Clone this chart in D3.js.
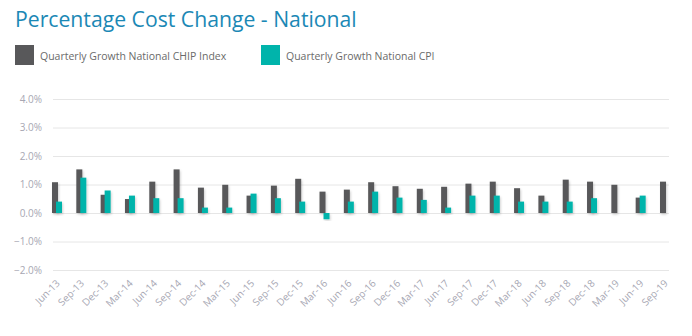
<!DOCTYPE html>
<html>
<head>
<meta charset="utf-8">
<script src="https://cdn.jsdelivr.net/npm/d3@7"></script>
<style>
  html, body { margin: 0; padding: 0; background: #fff; }
  svg { display: block; font-family: "Open Sans", "Noto Sans", sans-serif; }
</style>
</head>
<body>
<svg id="chart" width="692" height="336"></svg>
<script>
// Quarterly growth, national CHIP index vs CPI (%)
const quarters = ["Jun-13","Sep-13","Dec-13","Mar-14","Jun-14","Sep-14","Dec-14","Mar-15","Jun-15","Sep-15","Dec-15","Mar-16","Jun-16","Sep-16","Dec-16","Mar-17","Jun-17","Sep-17","Dec-17","Mar-18","Jun-18","Sep-18","Dec-18","Mar-19","Jun-19","Sep-19"];
const chipGrowth = [1.08,1.53,0.64,0.49,1.10,1.53,0.89,0.99,0.61,0.96,1.20,0.75,0.82,1.08,0.94,0.85,0.92,1.03,1.10,0.87,0.61,1.17,1.10,0.99,0.54,1.10];
const cpiGrowth  = [0.40,1.24,0.79,0.61,0.52,0.52,0.19,0.19,0.68,0.52,0.40,-0.22,0.40,0.75,0.54,0.46,0.19,0.61,0.61,0.40,0.40,0.40,0.52,null,0.61,null];
const yTicks = [-2,-1,0,1,2,3,4];
const seriesNames = ["Quarterly Growth National CHIP Index", "Quarterly Growth National CPI"];
const seriesColors = ["#58585a", "#00b4ab"];

const svg = d3.select("#chart");

// Title
svg.append("text")
  .attr("x", 15).attr("y", 26.5)
  .attr("fill", "#1b88b5")
  .attr("font-size", 21.2)
  .text("Percentage Cost Change - National");

// Legend
const legendX = [15, 261];
seriesNames.forEach((name, i) => {
  const g = svg.append("g").attr("transform", `translate(${legendX[i]},45)`);
  g.append("rect").attr("width", 19).attr("height", 20).attr("fill", seriesColors[i]);
  g.append("text").attr("x", 25).attr("y", 14.5)
    .attr("font-size", 10.5).attr("fill", "#6a6a6a").text(name);
});

// Scales
const left = 53, right = 669;
const x = d3.scalePoint().domain(quarters).range([57, 665]);
const y = d3.scaleLinear().domain([-2, 4]).range([270, 99]);

// Drop shadow for bars
const defs = svg.append("defs");
const f = defs.append("filter").attr("id", "shadow")
  .attr("x", "-50%").attr("y", "-20%").attr("width", "200%").attr("height", "140%");
f.append("feDropShadow").attr("dx", 1).attr("dy", 1.5)
  .attr("stdDeviation", 0.8).attr("flood-color", "#000").attr("flood-opacity", 0.18);

// Gridlines + y labels
const yAxis = d3.axisLeft(y).tickValues(yTicks)
  .tickFormat(d => d3.format(".1f")(d) + "%")
  .tickSize(-(right - left)).tickPadding(11);
const gy = svg.append("g").attr("transform", `translate(${left},0)`).call(yAxis);
gy.select(".domain").remove();
gy.selectAll(".tick line").attr("stroke", "#e6e6e6");
gy.selectAll(".tick text").attr("fill", "#a7a7b3").attr("font-size", 10)
  .attr("font-family", "'Open Sans', sans-serif");

// Bars
const bw = 6;
const barsG = svg.append("g");
barsG.selectAll("rect.chip").data(quarters).join("rect")
  .attr("class", "chip")
  .attr("x", d => x(d) - 5)
  .attr("width", bw)
  .attr("y", (d, i) => y(Math.max(0, chipGrowth[i])))
  .attr("height", (d, i) => Math.abs(y(chipGrowth[i]) - y(0)))
  .attr("fill", seriesColors[0])
  .attr("filter", "url(#shadow)");
barsG.selectAll("rect.cpi").data(quarters.filter((d, i) => cpiGrowth[i] !== null)).join("rect")
  .attr("class", "cpi")
  .attr("x", d => x(d) - 1)
  .attr("width", bw)
  .attr("y", d => y(Math.max(0, cpiGrowth[quarters.indexOf(d)])))
  .attr("height", d => Math.abs(y(cpiGrowth[quarters.indexOf(d)]) - y(0)))
  .attr("fill", seriesColors[1])
  .attr("filter", "url(#shadow)");

// X axis labels (rotated)
const xAxis = d3.axisBottom(x).tickSize(0).tickPadding(0);
const gx = svg.append("g").attr("transform", `translate(0,278)`).call(xAxis);
gx.select(".domain").remove();
gx.selectAll(".tick text")
  .attr("fill", "#a7a7b3").attr("font-size", 10)
  .attr("font-family", "'Open Sans', sans-serif")
  .attr("text-anchor", "end")
  .attr("dy", 0)
  .attr("transform", "translate(3,6) rotate(-45)");
</script>
</body>
</html>
